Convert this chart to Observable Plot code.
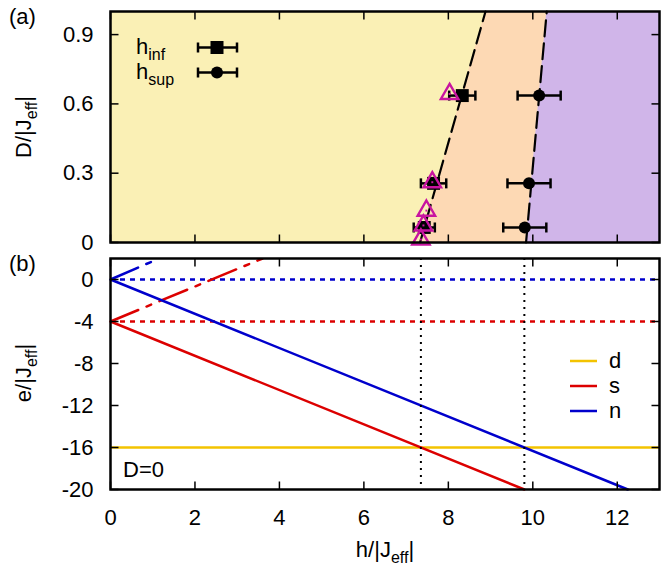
<!DOCTYPE html>
<html><head><meta charset="utf-8">
<script src="https://cdn.jsdelivr.net/npm/d3@7"></script>
<script src="https://cdn.jsdelivr.net/npm/@observablehq/plot@0.6"></script>
<style>
body{margin:0;background:#fff;}
#wrap{position:relative;width:667px;height:567px;overflow:hidden;}
#wrap > svg{position:absolute;left:0;}
</style></head>
<body><div id="wrap"></div>
<script>
// ---------- data ----------
const hDomain = [0, 13];
const dDomain = [0, 1];
const eDomain = [-20, 2];
const hTicks = [0, 2, 4, 6, 8, 10, 12];
const dTicks = [0, 0.3, 0.6, 0.9];
const eTicks = [0, -4, -8, -12, -16, -20];

// phase boundaries (panel a)
const boundaryD = [0, 1];
const boundaryInfH = [7.33, 8.88];
const boundarySupH = [9.84, 10.33];

// measured points (panel a)
const pointD = [0.065, 0.256, 0.636];
const hInf = [7.43, 7.65, 8.33];
const hInfErr = [0.25, 0.30, 0.31];
const hSup = [9.81, 9.91, 10.15];
const hSupErr = [0.51, 0.51, 0.51];
const triH = [7.35, 7.41, 7.48, 7.62, 8.03];
const triD = [0.013, 0.074, 0.138, 0.261, 0.643];

// energy levels (panel b, D=0)
const levelNames = ["d", "s", "n"];
const dLevelE = [-16];
const zeroFieldE = [-4, 0];           // s, n at h=0 (dotted)
const sDownH = [0, 9.8],  sDownE = [-4, -20];
const nDownH = [0, 12.25], nDownE = [0, -20];
const sUpH = [0, 3.6],    sUpE = [-4, 2];
const nUpH = [0, 1.15],   nUpE = [0, 2];
const crossingH = [7.35, 9.8];

// ---------- styles ----------
const FONT = "Liberation Sans, Arial, Helvetica, sans-serif";
const cYellowBg = "#faf0b5", cPeach = "#fdd9b4", cLav = "#d0b5e9";
const cD = "#f3c300", cS = "#dc0000", cN = "#0000cc", cMag = "#c814a0";
const levelColor = {d: cD, s: cS, n: cN};

const tk = (dx, dy) => ({draw(ctx) { ctx.moveTo(0, 0); ctx.lineTo(dx, dy); }});
const capSym = {draw(ctx) { ctx.moveTo(0, -5); ctx.lineTo(0, 5); }};
const TL = 8;
const tickOpts = {stroke: "black", strokeWidth: 1.5, fill: "none"};

const pts = (hs, es) => hs.map((h, i) => ({h, e: es[i]}));
const boundary = boundaryD.map((D, i) => ({D, inf: boundaryInfH[i], sup: boundarySupH[i]}));
const infPts = pointD.map((D, i) => ({D, h: hInf[i], err: hInfErr[i]}));
const supPts = pointD.map((D, i) => ({D, h: hSup[i], err: hSupErr[i]}));
const triPts = triH.map((h, i) => ({h, D: triD[i]}));

const errMarks = (data) => [
  Plot.ruleY(data, {y: "D", x1: d => d.h - d.err, x2: d => d.h + d.err, stroke: "black", strokeWidth: 2.5}),
  Plot.dot(data, {x: d => d.h - d.err, y: "D", symbol: capSym, stroke: "black", strokeWidth: 2.5, fill: "none"}),
  Plot.dot(data, {x: d => d.h + d.err, y: "D", symbol: capSym, stroke: "black", strokeWidth: 2.5, fill: "none"})
];

// ---------- panel (a) ----------
const plotA = Plot.plot({
  width: 667, height: 250,
  marginTop: 11, marginBottom: 8, marginLeft: 110, marginRight: 8,
  style: {fontFamily: FONT, fontSize: "22px", background: "transparent", overflow: "visible"},
  x: {domain: hDomain, axis: null},
  y: {domain: dDomain},
  marks: [
    Plot.frame({fill: cYellowBg}),
    Plot.areaX(boundary, {y: "D", x1: "inf", x2: "sup", fill: cPeach}),
    Plot.areaX(boundary, {y: "D", x1: "sup", x2: d => hDomain[1], fill: cLav}),
    Plot.line(boundary, {x: "inf", y: "D", stroke: "black", strokeWidth: 2.2, strokeDasharray: "16,7"}),
    Plot.line(boundary, {x: "sup", y: "D", stroke: "black", strokeWidth: 2.2, strokeDasharray: "16,7"}),
    ...errMarks(infPts),
    ...errMarks(supPts),
    Plot.dot(infPts, {x: "h", y: "D", symbol: "square", r: 7.3, fill: "black"}),
    Plot.dot(supPts, {x: "h", y: "D", symbol: "circle", r: 6, fill: "black"}),
    Plot.dot(triPts, {x: "h", y: "D", symbol: "triangle", r: 6.5, stroke: cMag, strokeWidth: 2.4, fill: "none"}),
    Plot.dot(triPts, {x: "h", y: "D", symbol: "square", r: 1.1, fill: cMag}),
    Plot.axisY(dTicks, {tickSize: 0, tickPadding: 17, tickFormat: d => String(d), label: null}),
    Plot.dot(hTicks, {x: d => d, frameAnchor: "bottom", symbol: tk(0, -TL), ...tickOpts}),
    Plot.dot(hTicks, {x: d => d, frameAnchor: "top", symbol: tk(0, TL), ...tickOpts}),
    Plot.dot(dTicks, {y: d => d, frameAnchor: "left", symbol: tk(TL, 0), ...tickOpts}),
    Plot.dot(dTicks, {y: d => d, frameAnchor: "right", symbol: tk(-TL, 0), ...tickOpts}),
    Plot.frame({stroke: "black", strokeWidth: 2.5})
  ]
});
plotA.style.top = "0px";

// ---------- panel (b) ----------
const plotB = Plot.plot({
  width: 667, height: 317,
  marginTop: 8, marginBottom: 78, marginLeft: 110, marginRight: 8,
  style: {fontFamily: FONT, fontSize: "22px", background: "transparent", overflow: "visible"},
  x: {domain: hDomain},
  y: {domain: eDomain},
  marks: [
    Plot.ruleY(zeroFieldE, {y: d => d, stroke: (d, i) => levelColor[levelNames[i + 1]], strokeWidth: 2.5, strokeDasharray: "5,5"}),
    Plot.line(pts(sUpH, sUpE), {x: "h", y: "e", stroke: cS, strokeWidth: 2.5, strokeDasharray: "30,9,5,9", clip: true}),
    Plot.line(pts(nUpH, nUpE), {x: "h", y: "e", stroke: cN, strokeWidth: 2.5, strokeDasharray: "30,9,5,9", clip: true}),
    Plot.ruleY(dLevelE, {y: d => d, stroke: cD, strokeWidth: 2.5}),
    Plot.line(pts(sDownH, sDownE), {x: "h", y: "e", stroke: cS, strokeWidth: 2.5}),
    Plot.line(pts(nDownH, nDownE), {x: "h", y: "e", stroke: cN, strokeWidth: 2.5}),
    Plot.ruleX(crossingH, {x: d => d, stroke: "black", strokeWidth: 2, strokeDasharray: "2,5"}),
    Plot.axisY(eTicks, {tickSize: 0, tickPadding: 17, tickFormat: d => String(d), label: null}),
    Plot.axisX(hTicks, {tickSize: 0, tickPadding: 20, tickFormat: d => String(d), label: null}),
    Plot.dot(hTicks, {x: d => d, frameAnchor: "bottom", symbol: tk(0, -TL), ...tickOpts}),
    Plot.dot(hTicks, {x: d => d, frameAnchor: "top", symbol: tk(0, TL), ...tickOpts}),
    Plot.dot(eTicks, {y: d => d, frameAnchor: "left", symbol: tk(TL, 0), ...tickOpts}),
    Plot.dot(eTicks, {y: d => d, frameAnchor: "right", symbol: tk(-TL, 0), ...tickOpts}),
    Plot.frame({stroke: "black", strokeWidth: 2.5})
  ]
});
plotB.style.top = "250px";

const wrap = document.getElementById("wrap");
wrap.appendChild(plotA);
wrap.appendChild(plotB);

// ---------- labels & legends overlay ----------
const ov = d3.select(wrap).append("svg")
  .attr("width", 667).attr("height", 567)
  .style("top", "0px").style("pointer-events", "none")
  .attr("font-family", FONT).attr("font-size", 22).attr("fill", "black");

function subText(g, main, sub, tail) {
  const t = g.append("text");
  t.append("tspan").text(main);
  t.append("tspan").attr("dy", 6).attr("font-size", 16).text(sub);
  if (tail) t.append("tspan").attr("dy", -6).attr("font-size", 22).text(tail);
  return t;
}

ov.append("text").attr("x", 9).attr("y", 24).text("(a)");
ov.append("text").attr("x", 9).attr("y", 271).text("(b)");

subText(ov.append("g").attr("transform", "translate(31,127) rotate(-90)"), "D/|J", "eff", "|").attr("text-anchor", "middle");
subText(ov.append("g").attr("transform", "translate(31,373) rotate(-90)"), "e/|J", "eff", "|").attr("text-anchor", "middle");
subText(ov.append("g").attr("transform", "translate(385,557)"), "h/|J", "eff", "|").attr("text-anchor", "middle");

// legend (a)
const legA = [{sub: "inf", y: 47.5, sym: "square"}, {sub: "sup", y: 72.5, sym: "circle"}];
legA.forEach(L => {
  subText(ov.append("g").attr("transform", `translate(136,${L.y + 6})`), "h", L.sub);
  ov.append("line").attr("x1", 198).attr("x2", 237).attr("y1", L.y).attr("y2", L.y).attr("stroke", "black").attr("stroke-width", 2.5);
  [198, 237].forEach(x => ov.append("line").attr("x1", x).attr("x2", x).attr("y1", L.y - 5).attr("y2", L.y + 5).attr("stroke", "black").attr("stroke-width", 2.5));
  if (L.sym === "square") ov.append("rect").attr("x", 217 - 6.5).attr("y", L.y - 6.5).attr("width", 13).attr("height", 13).attr("fill", "black");
  else ov.append("circle").attr("cx", 217).attr("cy", L.y).attr("r", 6).attr("fill", "black");
});

// legend (b)
levelNames.forEach((n, i) => {
  const y = 361 + i * 25;
  ov.append("line").attr("x1", 570).attr("x2", 597).attr("y1", y).attr("y2", y).attr("stroke", levelColor[n]).attr("stroke-width", 2.5);
  ov.append("text").attr("x", 609).attr("y", y + 7).text(n);
});

ov.append("text").attr("x", 123).attr("y", 477).text("D=0");
</script></body></html>
